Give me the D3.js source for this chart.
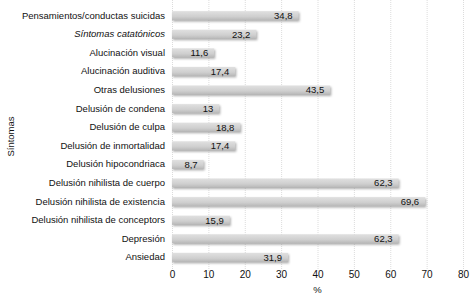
<!DOCTYPE html>
<html>
<head>
<meta charset="utf-8">
<script src="https://cdn.jsdelivr.net/npm/d3@7"></script>
<style>
  body { margin: 0; background: #fff; }
  svg text { font-family: "Liberation Sans", Arial, Helvetica, sans-serif; }
</style>
</head>
<body>
<svg id="chart"></svg>
<script>
const sintomas = [
  'Pensamientos/conductas suicidas',
  'Síntomas catatónicos',
  'Alucinación visual',
  'Alucinación auditiva',
  'Otras delusiones',
  'Delusión de condena',
  'Delusión de culpa',
  'Delusión de inmortalidad',
  'Delusión hipocondriaca',
  'Delusión nihilista de cuerpo',
  'Delusión nihilista de existencia',
  'Delusión nihilista de conceptors',
  'Depresión',
  'Ansiedad'
];
const porcentajes = [34.8, 23.2, 11.6, 17.4, 43.5, 13, 18.8, 17.4, 8.7, 62.3, 69.6, 15.9, 62.3, 31.9];
const xTicks = [0, 10, 20, 30, 40, 50, 60, 70, 80];

const width = 476, height = 308;
const margin = { top: 1.5, left: 172, right: 13, bottom: 36.5 };

const svg = d3.select('#chart')
  .attr('width', width)
  .attr('height', height);

const data = sintomas.map((s, i) => ({ name: s, value: porcentajes[i] }));

const x = d3.scaleLinear().domain([0, 80]).range([margin.left, width - margin.right]);
const y = d3.scaleBand().domain(sintomas).range([margin.top, height - margin.bottom]).padding(0.52);

// gradient + shadow
const defs = svg.append('defs');
const grad = defs.append('linearGradient')
  .attr('id', 'barGrad').attr('x1', 0).attr('y1', 0).attr('x2', 0).attr('y2', 1);
grad.append('stop').attr('offset', '0%').attr('stop-color', '#e0e0e0');
grad.append('stop').attr('offset', '60%').attr('stop-color', '#cfcfcf');
grad.append('stop').attr('offset', '100%').attr('stop-color', '#b8b8b8');

const blur = defs.append('filter').attr('id', 'sh')
  .attr('x', '-5%').attr('y', '-50%').attr('width', '110%').attr('height', '200%');
blur.append('feGaussianBlur').attr('stdDeviation', 0.9);

// gridlines
svg.append('g')
  .selectAll('line')
  .data(xTicks)
  .join('line')
  .attr('x1', d => x(d) + 0.5)
  .attr('x2', d => x(d) + 0.5)
  .attr('y1', margin.top - 1.5)
  .attr('y2', height - margin.bottom)
  .attr('stroke', '#dcdcdc')
  .attr('stroke-width', 1)
  .attr('stroke-dasharray', '1,1');

// x axis labels
const xAxis = d3.axisBottom(x).tickValues(xTicks).tickSize(0).tickPadding(0).tickFormat(d => d);
svg.append('g')
  .attr('transform', `translate(0,${height - margin.bottom - 1})`)
  .call(xAxis)
  .call(g => g.select('.domain').remove())
  .call(g => g.selectAll('text').attr('font-size', 10).attr('fill', '#111').attr('font-family', null));

// y axis labels
const yAxis = d3.axisLeft(y).tickSize(0).tickPadding(7);
svg.append('g')
  .attr('transform', `translate(${margin.left},0)`)
  .call(yAxis)
  .call(g => g.select('.domain').remove())
  .call(g => g.selectAll('text')
    .attr('font-size', 9.5).attr('fill', '#111').attr('font-family', null)
    .attr('font-style', d => d === 'Síntomas catatónicos' ? 'italic' : null));

// bars: shadow then bar
const bars = svg.append('g');
bars.selectAll('rect.shadow')
  .data(data)
  .join('rect')
  .attr('class', 'shadow')
  .attr('x', x(0) + 1)
  .attr('y', d => y(d.name) + 1.5)
  .attr('width', d => x(d.value) - x(0))
  .attr('height', y.bandwidth())
  .attr('fill', '#8c8c8c')
  .attr('opacity', 0.7)
  .attr('filter', 'url(#sh)');

bars.selectAll('rect.bar')
  .data(data)
  .join('rect')
  .attr('class', 'bar')
  .attr('x', x(0))
  .attr('y', d => y(d.name))
  .attr('width', d => x(d.value) - x(0))
  .attr('height', y.bandwidth())
  .attr('fill', 'url(#barGrad)');

bars.selectAll('text')
  .data(data)
  .join('text')
  .attr('x', d => x(d.value) - 6)
  .attr('y', d => y(d.name) + y.bandwidth() / 2)
  .attr('dy', '0.35em')
  .attr('text-anchor', 'end')
  .attr('font-size', 9.5)
  .attr('fill', '#111')
  .text(d => String(d.value).replace('.', ','));

// axis titles
svg.append('text')
  .attr('x', (x(0) + x(80)) / 2)
  .attr('y', 293)
  .attr('text-anchor', 'middle')
  .attr('font-size', 9.5)
  .attr('fill', '#111')
  .text('%');

svg.append('text')
  .attr('transform', `translate(14,${(margin.top + height - margin.bottom) / 2}) rotate(-90)`)
  .attr('text-anchor', 'middle')
  .attr('font-size', 9.5)
  .attr('fill', '#111')
  .text('Síntomas');
</script>
</body>
</html>
